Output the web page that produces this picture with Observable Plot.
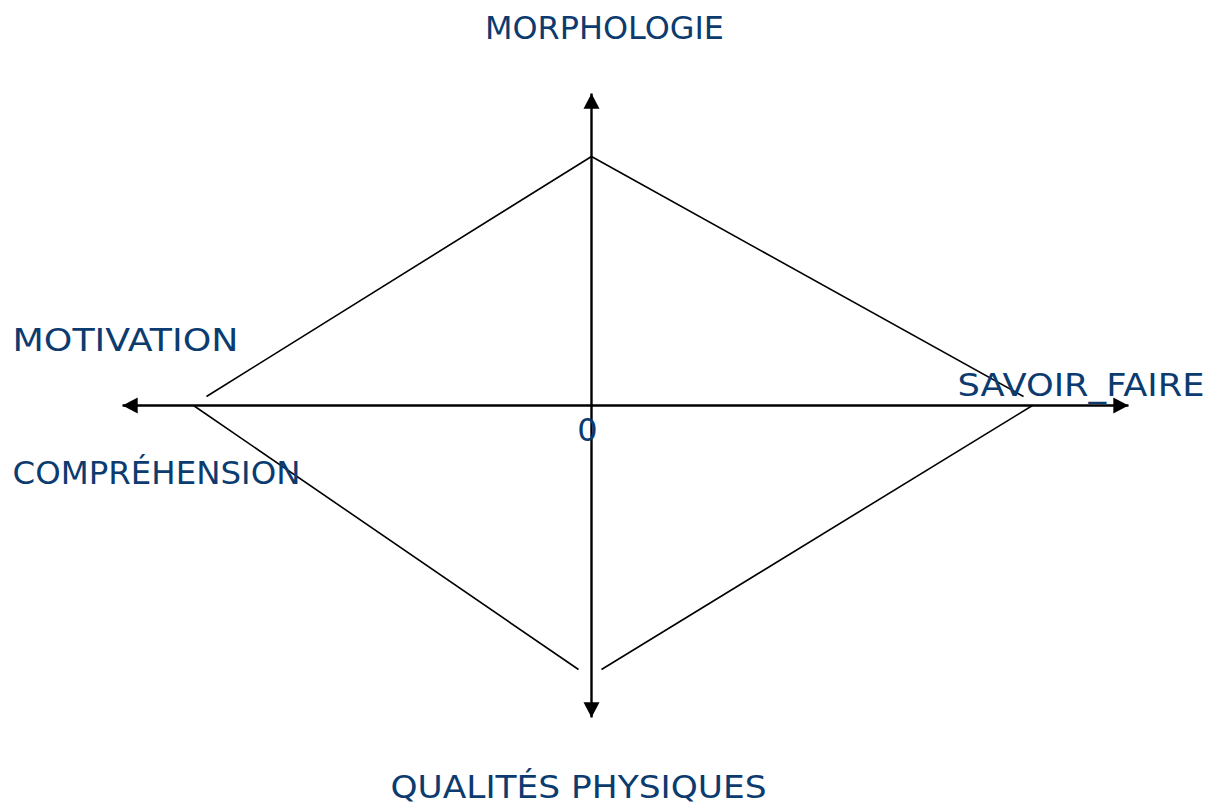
<!DOCTYPE html>
<html>
<head>
<meta charset="utf-8">
<script src="https://cdn.jsdelivr.net/npm/d3@7"></script>
<script src="https://cdn.jsdelivr.net/npm/@observablehq/plot@0.6"></script>
<style>
  html, body { margin: 0; padding: 0; background: #fff; }
  #chart svg { display: block; }
</style>
</head>
<body>
<div id="chart"></div>
<script>
// Axis labels and their positions (data units, origin = 0)
const labels = ["MORPHOLOGIE", "SAVOIR_FAIRE", "QUALITÉS PHYSIQUES", "MOTIVATION", "COMPRÉHENSION", "0"];
const labelX = [0.52, 14.64, -0.52, -23.16, -23.16, -0.16];
const labelY = [15.08, 0.8, -15.28, 2.6, -2.72, -1.0];
const labelAnchor = ["middle", "start", "middle", "start", "start", "middle"];

// Axis extents (arrow tips)
const axisXMin = -18.76, axisXMax = 21.48;
const axisYMin = -12.48, axisYMax = 12.48;

// Diamond segments
const segX1 = [-15.4, 0, -15.92, 17.64];
const segY1 = [0.36, 9.96, 0, 0];
const segX2 = [0, 17.28, -0.52, 0.4];
const segY2 = [9.96, 0.36, -10.56, -10.56];

// Styling: rendered label widths (px) to mimic the original handwriting font
const labelWidthsPx = {"MORPHOLOGIE": 239, "SAVOIR_FAIRE": 247, "QUALITÉS PHYSIQUES": 376, "MOTIVATION": 226, "COMPRÉHENSION": 288};

const segments = segX1.map((_, i) => ({x1: segX1[i], y1: segY1[i], x2: segX2[i], y2: segY2[i]}));
const axes = [
  {x1: axisXMin, y1: 0, x2: axisXMax, y2: 0},
  {x1: 0, y1: axisYMin, x2: 0, y2: axisYMax}
];
const textData = labels.map((t, i) => ({t, x: labelX[i], y: labelY[i], a: labelAnchor[i]}));

// Arrowhead symbol with its tip at the origin, pointing up
const arrowHead = {
  draw(ctx, size) {
    const r = Math.sqrt(size / Math.PI);
    ctx.moveTo(0, 0);
    ctx.lineTo(r, 1.9 * r);
    ctx.lineTo(-r, 1.9 * r);
    ctx.closePath();
  }
};
const heads = [
  {x: 0, y: axisYMax, r: 0},
  {x: axisXMax, y: 0, r: 90},
  {x: 0, y: axisYMin, r: 180},
  {x: axisXMin, y: 0, r: 270}
];

const pxPerUnit = 25;
const W = 1216, H = 805;
const ox = 591, oy = 405;

const chart = Plot.plot({
  width: W,
  height: H,
  margin: 0,
  x: {domain: [-ox / pxPerUnit, (W - ox) / pxPerUnit], range: [0, W], axis: null},
  y: {domain: [-(H - oy) / pxPerUnit, oy / pxPerUnit], range: [H, 0], axis: null},
  marks: [
    Plot.link(segments, {x1: "x1", y1: "y1", x2: "x2", y2: "y2", stroke: "black", strokeWidth: 1.6}),
    Plot.link(axes, {x1: "x1", y1: "y1", x2: "x2", y2: "y2", stroke: "black", strokeWidth: 2.4}),
    Plot.dot(heads, {x: "x", y: "y", rotate: "r", symbol: arrowHead, r: 8, fill: "black", stroke: "none"}),
    ...["start", "middle"].map(a =>
      Plot.text(textData.filter(d => d.a === a), {
        x: "x", y: "y", text: "t", textAnchor: a,
        fill: "#0b3b6f", fontSize: 32, fontFamily: "DejaVu Sans"
      })
    )
  ]
});
d3.select(chart).selectAll("text").each(function() {
  const w = labelWidthsPx[this.textContent];
  if (w) {
    this.setAttribute("textLength", w);
    this.setAttribute("lengthAdjust", "spacingAndGlyphs");
  }
});
document.getElementById("chart").appendChild(chart);
</script>
</body>
</html>
